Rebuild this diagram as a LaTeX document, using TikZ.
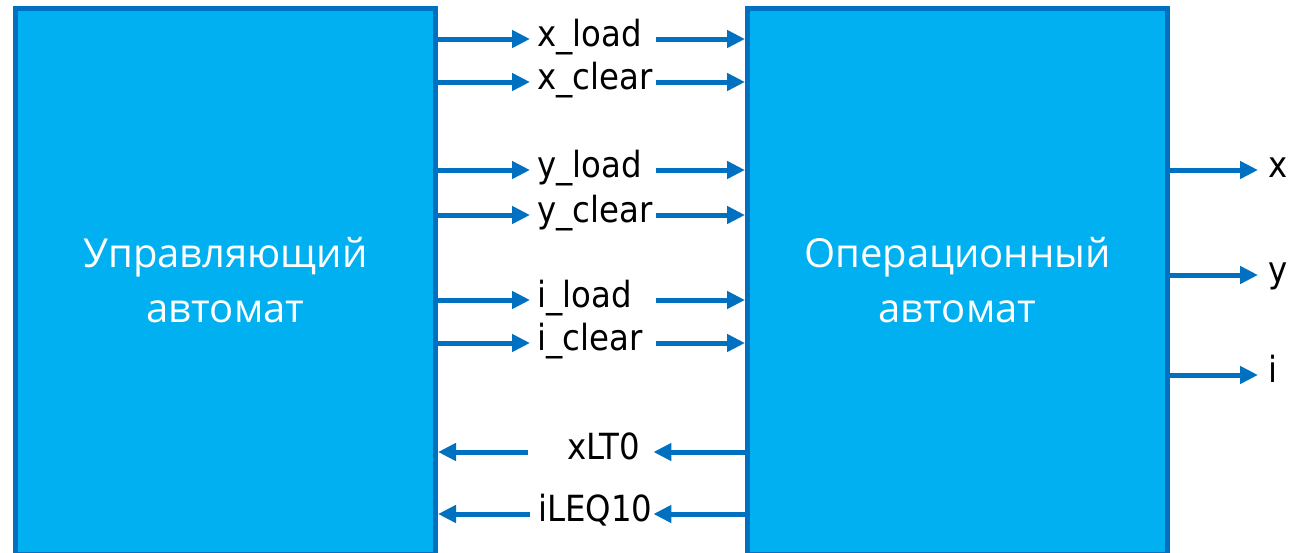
\documentclass[tikz,border=0pt]{standalone}
\usepackage{fontspec}
\usetikzlibrary{arrows.meta}
\newfontfamily\boxfont{Open Sans}
\newfontfamily\sigfont{DejaVu Sans Condensed}
\definecolor{blockfill}{HTML}{00B0F0}
\definecolor{blockline}{HTML}{0070C0}
\tikzset{
  block/.style={rectangle, draw=blockline, fill=blockfill, line width=5pt,
    minimum width=420pt, minimum height=546pt, inner sep=0pt},
  blocktext/.style={text=white, align=center,
    font={\boxfont\fontsize{40}{55}\selectfont}},
  sig/.style={rectangle, inner ysep=0pt, text height=20pt, text depth=6pt,
    anchor=west, font={\sigfont\fontsize{36}{40}\selectfont}},
  sigbox/.style={sig, inner xsep=7pt, text width=112pt, align=left},
  wire/.style={draw=blockline, line width=5pt,
    -{Triangle[length=18pt,width=17pt]}}
}
\begin{document}
\begin{tikzpicture}[x=1pt,y=-1pt]
  \clip (0,0) rectangle (1296,552);
  \fill[white] (0,0) rectangle (1296,552);

  % the two automata
  \node[block] (L) at (225.5,281.5) {};
  \node[block] (R) at (957.5,281.5) {};
  \node[blocktext, anchor=base] (Ltxt) at (225.5,322) {Управляющий\\автомат};
  \node[blocktext, anchor=base] (Rtxt) at (957.5,322) {Операционный\\автомат};

  % control signals, left to right
  \node[sigbox] (s1) at (530,39)  {x\_load};
  \node[sigbox] (s2) at (530,82)  {x\_clear};
  \node[sigbox] (s3) at (530,170) {y\_load};
  \node[sigbox] (s4) at (530,215) {y\_clear};
  \node[sigbox] (s5) at (530,300) {i\_load};
  \node[sigbox] (s6) at (530,343) {i\_clear};
  \foreach \s in {s1,s2,s3,s4,s5,s6}{
    \draw[wire] (L.east |- \s.west) -- (\s.west);
    \draw[wire] (\s.east) -- (R.west |- \s.east);
  }

  % status flags, right to left
  \node[sig, inner xsep=13pt, text width=99pt, align=right] (f1) at (528,452) {xLT0};
  \node[sig, inner xsep=8pt, text width=107pt, align=left] (f2) at (530,514) {iLEQ10};
  \foreach \f in {f1,f2}{
    \draw[wire] (R.west |- \f.east) -- (\f.east);
    \draw[wire] (\f.west) -- (L.east |- \f.west);
  }

  % data outputs
  \node[sig, inner xsep=10pt] (ox) at (1258,170) {x};
  \node[sig, inner xsep=10pt] (oy) at (1258,275) {y};
  \node[sig, inner xsep=10pt] (oi) at (1258,375) {i};
  \foreach \o in {ox,oy,oi}{
    \draw[wire] (R.east |- \o.west) -- (\o.west);
  }
\end{tikzpicture}
\end{document}
